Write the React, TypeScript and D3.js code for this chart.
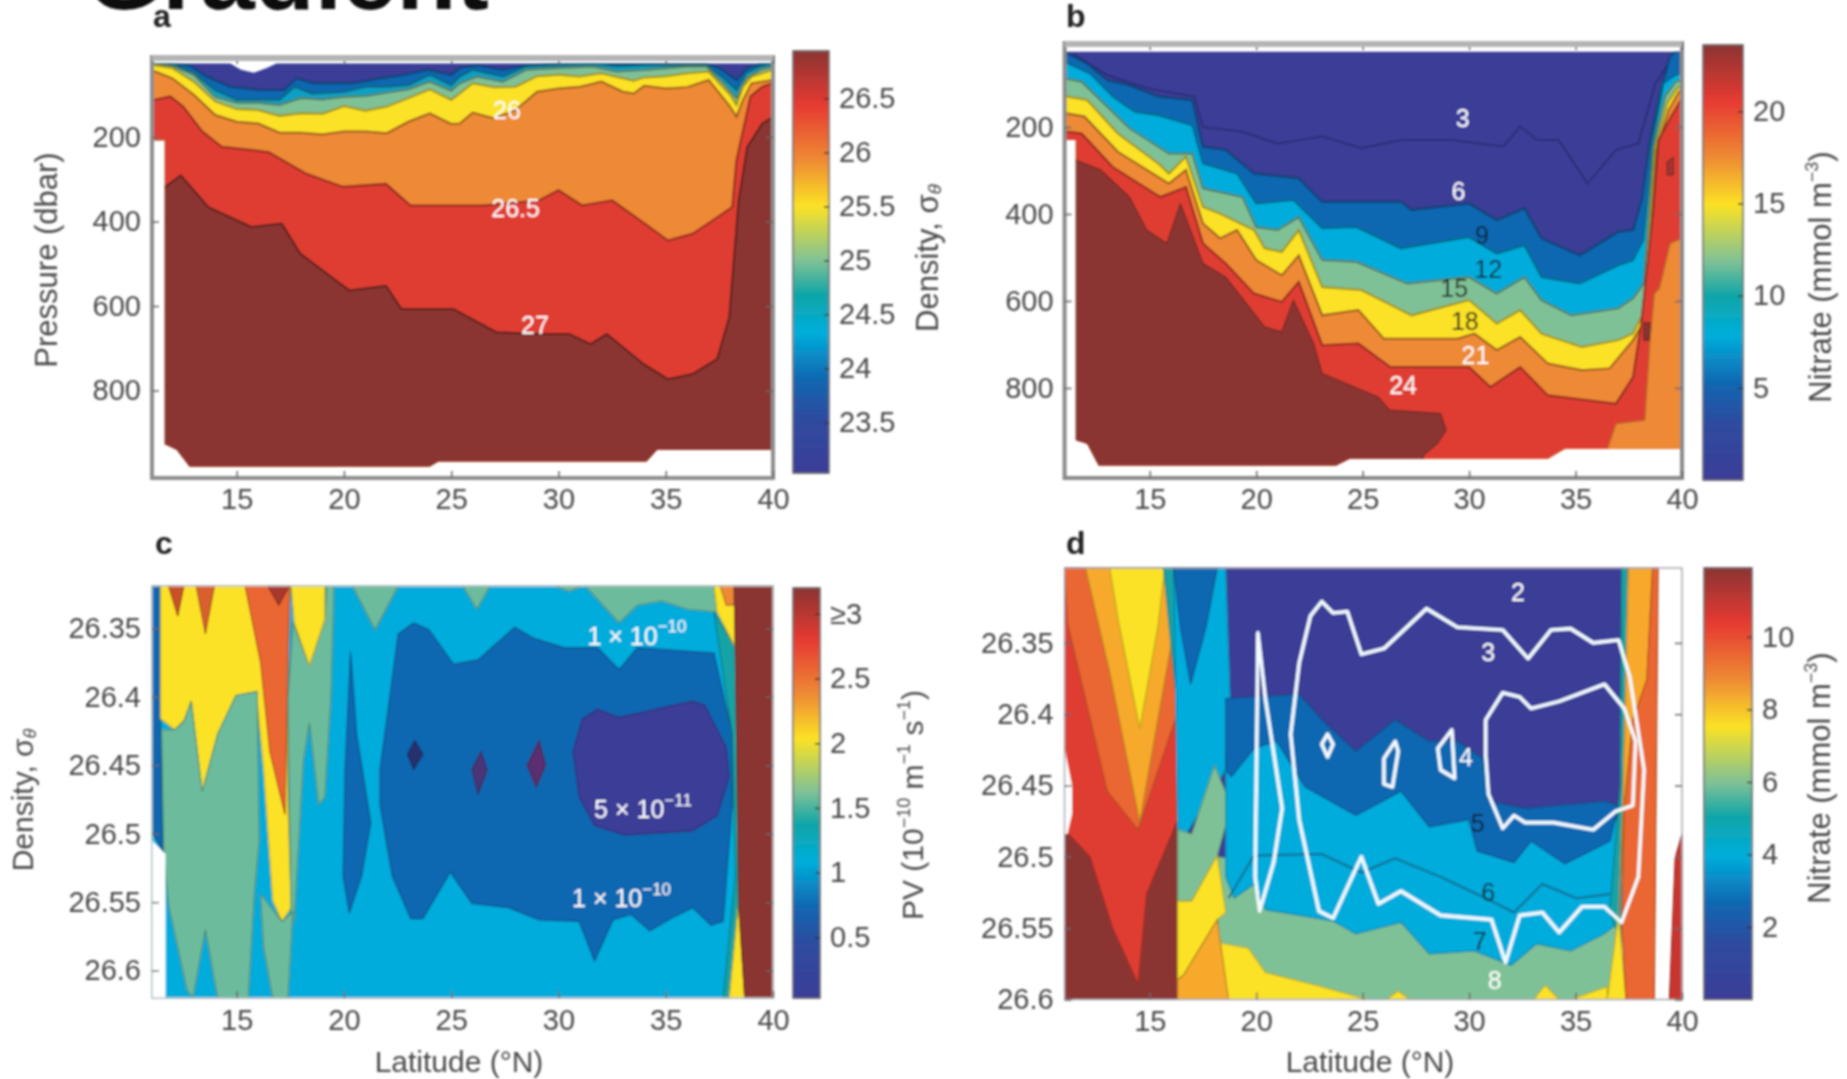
import React, { useEffect, useRef } from 'react';
import * as d3 from 'd3';

type Pt = [number, number];

// palette
const NAVY = '#3b3d97';
const BLUE = '#1167b1';
const CYAN = '#05acdc';
const TEAL = '#12a3a6';
const GREEN = '#7fc196';
const YELLOW = '#fbe225';
const AMBER = '#f6a92c';
const ORANGE = '#ee8a34';
const ORANGERED = '#ea6630';
const RED = '#df3d33';
const DARKRED = '#8a3432';

const barStops = [0, 0.13, 0.22, 0.33, 0.42, 0.5, 0.63, 0.74, 0.87, 1];
const barColors = [NAVY, '#2d4ca0', BLUE, '#00aedb', '#0ea5a8', GREEN, YELLOW, ORANGE, '#e63a30', DARKRED];

const latTicks = [15, 20, 25, 30, 35, 40];
const pressureTicks = [200, 400, 600, 800];
const densityTicks = [26.35, 26.4, 26.45, 26.5, 26.55, 26.6];

// panel a: isopycnals, latitude vs pressure
const aSurface: Pt[] = [[11.05, 26], [14.7, 26], [15.2, 41], [15.8, 48], [16.4, 37], [16.85, 26], [40, 26]];
const aSeabed: Pt[] = [[11.05, 208], [11.65, 208], [11.65, 927], [12.2, 940], [12.8, 980], [24, 980], [24.4, 968], [34.1, 968], [34.6, 940], [40, 940]];
const a24: Pt[] = [[11.4, 26], [12.8, 30], [13.6, 57], [14.7, 81], [16.1, 89], [17.2, 89], [17.8, 61], [18.6, 73], [20.4, 73], [21.7, 61], [22.8, 53], [23.9, 41], [25, 53], [25.4, 37], [26.2, 30], [27.4, 41], [28.5, 30], [30, 27], [36.9, 27], [37.5, 37], [38.3, 65], [38.8, 37], [39.4, 27], [40, 26]];
const a245: Pt[] = [[11.2, 26], [12, 27], [13, 49], [14, 89], [15, 112], [17, 112], [17.7, 81], [18.5, 97], [20, 93], [21, 81], [22, 81], [23, 77], [24, 53], [25, 77], [25.4, 57], [26, 41], [27.4, 57], [28.5, 33], [30, 30], [31.6, 27], [32.7, 33], [34.1, 30], [36.9, 30], [37.7, 61], [38.3, 89], [38.75, 49], [39.4, 33], [39.95, 27]];
const a25: Pt[] = [[11.2, 27], [12, 32], [13, 53], [14, 105], [15, 119], [16, 119], [17, 124], [18, 108], [19, 111], [20, 105], [21, 103], [22, 95], [23, 87], [24, 69], [25, 90], [25.4, 73], [26.2, 57], [27.4, 69], [28.5, 41], [30, 37], [31.6, 33], [32.7, 45], [34.1, 41], [36, 33], [36.9, 33], [37.7, 73], [38.3, 108], [38.75, 61], [39.4, 41], [40, 33]];
const a255: Pt[] = [[11.2, 30], [12, 37], [13, 69], [14, 116], [15, 134], [16, 136], [17, 150], [18, 144], [19, 145], [20, 127], [21, 138], [22, 128], [23, 108], [24, 87], [25, 112], [25.4, 97], [26, 73], [27, 82], [28, 81], [29, 56], [30, 53], [31, 57], [32, 49], [33, 61], [33.5, 67], [34, 59], [35, 56], [36, 49], [37, 45], [38, 100], [38.3, 124], [38.6, 81], [39, 57], [40, 41]];
const a26: Pt[] = [[11.2, 45], [12, 61], [13, 100], [14, 148], [15, 164], [16, 168], [17, 190], [18, 190], [19, 194], [20, 187], [21, 187], [22, 191], [23, 164], [24, 144], [25, 169], [25.4, 168], [26, 142], [27, 156], [28, 136], [29, 93], [30, 85], [31, 81], [32, 69], [33, 93], [33.5, 97], [34, 79], [35, 85], [36, 82], [37, 65], [38, 128], [38.3, 152], [38.6, 112], [39, 73], [40, 65]];
const a265: Pt[] = [[11.2, 112], [11.9, 104], [12.5, 128], [13.4, 187], [14.3, 223], [15.7, 231], [16.5, 236], [18.25, 287], [19.96, 318], [21.96, 311], [23.1, 362], [26.5, 362], [29.1, 350], [30, 326], [31.1, 362], [32.5, 350], [34.25, 413], [35.1, 445], [36.25, 429], [37.4, 390], [38.1, 366], [38.3, 254], [38.95, 104], [39.5, 81], [40, 73]];
const a27: Pt[] = [[11.68, 318], [12.39, 291], [13.68, 366], [15.68, 413], [17.1, 405], [17.96, 476], [20.25, 563], [21.96, 552], [22.68, 607], [25.1, 607], [27.1, 662], [29.1, 666], [30.5, 666], [31.5, 690], [32.25, 666], [33.96, 737], [35.1, 773], [36.25, 761], [37.4, 725], [37.96, 627], [38.4, 350], [38.8, 224], [39.5, 168], [40, 153]];

// panel b: nitrate, latitude vs pressure
const bSurface: Pt[] = [[11, 27], [40, 27]];
const bSeabed: Pt[] = [[11, 230], [11.53, 230], [11.53, 920], [12.06, 928], [12.6, 978], [23.75, 978], [24.4, 963], [33.7, 963], [34.5, 940], [40, 940]];
const b3: Pt[] = [[11.4, 31], [13, 81], [14.85, 111], [17.1, 130], [17.5, 200], [19.36, 211], [21, 238], [23.1, 222], [24.94, 249], [26.8, 230], [29.2, 230], [31.6, 245], [32.4, 199], [33.2, 230], [34.2, 230], [35.56, 330], [36.9, 253], [37.95, 238], [38.75, 100], [39.7, 30]];
const b6: Pt[] = [[11.13, 31], [12.06, 54], [13, 92], [14.05, 104], [15.4, 130], [17, 138], [17.5, 245], [18.57, 253], [19.9, 307], [22, 318], [23.1, 372], [26.8, 372], [27.3, 391], [30, 376], [31.3, 414], [32.6, 387], [33.4, 456], [35.2, 495], [37, 441], [37.7, 437], [38.11, 368], [38.5, 230], [39.05, 107], [39.44, 38], [39.7, 27]];
const b9: Pt[] = [[11, 50], [12.2, 77], [13.26, 130], [14.3, 165], [15.4, 173], [17, 196], [17.5, 284], [19.1, 307], [20, 376], [21.75, 368], [23.1, 433], [24.7, 430], [26.8, 479], [30, 453], [31.3, 491], [32.6, 472], [33.4, 545], [35.2, 560], [37, 518], [37.7, 506], [38.18, 460], [38.63, 230], [39.13, 100], [39.7, 80], [40, 77]];
const b12: Pt[] = [[11, 88], [11.8, 96], [13, 153], [14.05, 203], [15.9, 261], [17, 261], [17.5, 341], [19.36, 361], [20, 430], [21, 437], [22, 407], [23.1, 506], [24.7, 510], [27.1, 560], [30, 545], [31.3, 583], [32.6, 545], [33.4, 598], [34.8, 633], [37, 617], [37.7, 594], [38.2, 560], [38.66, 245], [39.2, 130], [39.7, 96], [40, 92]];
const b15: Pt[] = [[11.13, 130], [12.06, 138], [13.5, 215], [15.4, 284], [15.9, 307], [16.7, 268], [17.5, 384], [18.3, 399], [19.9, 437], [20.4, 479], [21.2, 487], [22, 437], [23.1, 568], [24.94, 575], [27.3, 633], [30, 598], [31.3, 652], [32.4, 621], [33.4, 675], [35.3, 706], [37, 690], [37.7, 675], [38.26, 620], [38.74, 250], [39.3, 146], [39.77, 111], [40, 105]];
const b18: Pt[] = [[11.13, 169], [11.93, 176], [13.5, 257], [15.9, 330], [16.7, 299], [17.5, 422], [18.3, 456], [19.1, 437], [20, 506], [21.2, 541], [22, 495], [23.1, 633], [24.8, 621], [26, 687], [29.45, 687], [30.25, 675], [31.3, 713], [32.4, 683], [33.7, 744], [35.3, 759], [36.6, 755], [37.7, 690], [38.3, 640], [38.81, 253], [39.37, 161], [39.85, 119], [40, 112]];
const b21: Pt[] = [[11.13, 211], [11.8, 215], [13.26, 292], [15.5, 361], [16.7, 338], [17.5, 468], [18.57, 514], [19.9, 583], [21.2, 602], [22, 556], [23.1, 702], [24.8, 698], [26.3, 752], [30, 752], [31, 798], [32.4, 752], [33.7, 817], [36.9, 836], [37.7, 775], [38.08, 652], [38.66, 383], [38.9, 230], [39.44, 180], [40, 134]];
const b24: Pt[] = [[11, 276], [11.53, 276], [12.7, 299], [14.05, 361], [14.85, 437], [15.8, 468], [16.44, 376], [17.5, 514], [18.57, 545], [20.4, 660], [21.2, 671], [21.75, 598], [22.7, 698], [23.1, 767], [25.74, 821], [26.27, 851], [28.66, 859], [28.92, 897], [28.5, 928], [27.85, 955], [27.85, 1007], [11, 1007]];
const bOrangeWedge: Pt[] = [[36.5, 1007], [36.5, 940], [36.9, 882], [38.25, 874], [38.5, 690], [38.7, 583], [38.94, 571], [39.44, 468], [40, 456], [40, 1007]];
const bDarkSpotTop: Pt[] = [[39.3, 280], [39.6, 270], [39.6, 310], [39.3, 310]];
const bDarkSpotLow: Pt[] = [[38.2, 650], [38.5, 650], [38.45, 690], [38.2, 690]];

// panel c: potential vorticity, latitude vs density
const cBase: Pt[] = [[11.05, 26.319], [40, 26.319], [40, 26.62], [11.05, 26.62]];
const cStripLeft: Pt[] = [[11.05, 26.319], [11.45, 26.319], [11.45, 26.416], [11.54, 26.513], [11.11, 26.5]];
const cNotch: Pt[] = [[11.05, 26.505], [11.68, 26.515], [11.68, 26.62], [11.05, 26.62]];
const cYellow1: Pt[] = [[11.45, 26.319], [17.48, 26.319], [17.34, 26.401], [17.39, 26.479], [17.54, 26.554], [17.11, 26.564], [16.68, 26.549], [16.25, 26.453], [15.91, 26.396], [14.96, 26.399], [14.11, 26.427], [13.39, 26.469], [12.88, 26.403], [12.54, 26.417], [12.11, 26.424], [11.45, 26.416]];
const cGreen1: Pt[] = [[11.5, 26.424], [12.11, 26.424], [12.54, 26.418], [12.88, 26.403], [13.39, 26.469], [14.11, 26.427], [14.96, 26.399], [15.96, 26.396], [16.05, 26.505], [15.82, 26.544], [15.54, 26.62], [14.11, 26.62], [13.54, 26.57], [12.96, 26.62], [12.68, 26.614], [11.82, 26.552], [11.6, 26.515]];
const cGreen2: Pt[] = [[17.62, 26.346], [18.39, 26.377], [19.11, 26.343], [19.19, 26.319], [19.54, 26.319], [19.39, 26.401], [19.11, 26.473], [18.82, 26.479], [18.39, 26.419], [18.11, 26.447], [17.68, 26.564], [17.54, 26.564], [17.45, 26.479], [17.39, 26.401]];
const cGreen3: Pt[] = [[16.11, 26.544], [17.11, 26.564], [17.62, 26.557], [17.39, 26.62], [16.68, 26.62], [16.25, 26.583]];
const cOrange1: Pt[] = [[15.39, 26.319], [17.48, 26.319], [17.39, 26.375], [17.25, 26.486], [16.54, 26.44], [16.11, 26.375]];
const cRedTip: Pt[] = [[16.45, 26.319], [17.45, 26.319], [16.96, 26.333]];
const cSpike1: Pt[] = [[11.82, 26.319], [12.54, 26.319], [12.25, 26.341]];
const cSpike2: Pt[] = [[13.11, 26.319], [13.96, 26.319], [13.54, 26.354]];
const cYellow2: Pt[] = [[17.54, 26.319], [19.11, 26.319], [19.11, 26.343], [18.39, 26.377], [17.68, 26.346]];
const cGreenTop1: Pt[] = [[20.39, 26.319], [22.53, 26.319], [21.45, 26.351]];
const cGreenTop2: Pt[] = [[25.54, 26.319], [26.82, 26.319], [26.19, 26.336]];
const cGreenTop3: Pt[] = [[31.25, 26.319], [37.25, 26.319], [37.39, 26.338], [36, 26.336], [34.82, 26.33], [33.68, 26.333], [32.82, 26.346]];
const cGreenTop4: Pt[] = [[29.82, 26.319], [31.11, 26.319], [30.5, 26.323]];
const cBlueStrip: Pt[] = [[20.31, 26.367], [20.59, 26.427], [21.25, 26.492], [20.82, 26.531], [20.25, 26.558], [19.96, 26.531], [20.05, 26.453]];
const cBlue: Pt[] = [[21.68, 26.453], [22.53, 26.354], [23.25, 26.346], [23.96, 26.351], [25.1, 26.376], [26.25, 26.373], [27.96, 26.349], [28.82, 26.357], [30.25, 26.364], [31.82, 26.364], [32.82, 26.38], [33.68, 26.364], [37.25, 26.368], [38.1, 26.427], [38.1, 26.479], [37.68, 26.564], [37.11, 26.567], [36.25, 26.554], [35.25, 26.562], [34.25, 26.571], [33.39, 26.559], [32.54, 26.563], [31.68, 26.593], [30.96, 26.564], [29.1, 26.563], [27.68, 26.554], [25.96, 26.551], [24.96, 26.528], [23.68, 26.562], [23.11, 26.562], [22.25, 26.531], [21.68, 26.479]];
const cNavy: Pt[] = [[30.68, 26.44], [31.11, 26.416], [31.82, 26.409], [32.82, 26.415], [36.25, 26.403], [36.82, 26.406], [37.82, 26.437], [37.96, 26.458], [37.39, 26.487], [36.25, 26.498], [33.1, 26.501], [31.68, 26.494], [30.96, 26.473]];
const cLens1: Pt[] = [[23.3, 26.432], [23.68, 26.442], [23.25, 26.453], [22.96, 26.442]];
const cLens2: Pt[] = [[26.39, 26.44], [26.68, 26.453], [26.25, 26.471], [25.96, 26.453]];
const cLens3: Pt[] = [[29.1, 26.432], [29.4, 26.45], [28.96, 26.466], [28.53, 26.45]];
const cTealRight: Pt[] = [[37.25, 26.338], [38.25, 26.364], [38.39, 26.551], [37.96, 26.62], [37.68, 26.62], [38.25, 26.531], [38.1, 26.427]];
const cYellowTop: Pt[] = [[37.25, 26.319], [38.19, 26.319], [38.25, 26.364], [37.39, 26.338]];
const cOrangeTop: Pt[] = [[37.54, 26.319], [38.19, 26.319], [38.19, 26.333], [37.82, 26.333]];
const cYellowLow: Pt[] = [[38.39, 26.551], [38.68, 26.62], [37.96, 26.62]];
const cDarkRed: Pt[] = [[38.19, 26.319], [40, 26.319], [40, 26.62], [38.68, 26.62], [38.39, 26.551], [38.3, 26.427]];

// panel d: nitrate, latitude vs density
const dBack: Pt[] = [[16.31, 26.2975], [37.3, 26.2975], [37.3, 26.45], [37, 26.55], [37, 26.6], [16.31, 26.6]];
const dLeftBase: Pt[] = [[11, 26.2975], [16.31, 26.2975], [16.31, 26.6], [11, 26.6]];
const dRedV: Pt[] = [[11, 26.2975], [16.31, 26.2975], [16.31, 26.474], [14.85, 26.526], [14.45, 26.589], [13.26, 26.55], [12.2, 26.5], [11.2, 26.484], [11, 26.484]];
const dOrangeRedV: Pt[] = [[11, 26.2975], [16.31, 26.2975], [16.31, 26.399], [14.45, 26.481], [13, 26.454], [11.13, 26.336]];
const dAmberV: Pt[] = [[11.98, 26.2975], [16.31, 26.2975], [16.31, 26.326], [15.38, 26.404], [14.53, 26.476], [13.12, 26.371]];
const dYellowV: Pt[] = [[13.12, 26.2975], [15.7, 26.2975], [15.38, 26.339], [14.53, 26.41], [13.52, 26.334]];
const dLeftWhite: Pt[] = [[11, 26.424], [11.35, 26.45], [11.35, 26.47], [11.13, 26.484], [11, 26.484]];
const dTealStrip: Pt[] = [[15.65, 26.2975], [16.18, 26.2975], [16.31, 26.48], [16.31, 26.399]];
const dCyanCol: Pt[] = [[16.12, 26.2975], [18.57, 26.2975], [18.78, 26.389], [18.57, 26.439], [16.71, 26.484], [16.31, 26.481]];
const dBlueCol: Pt[] = [[16.12, 26.2975], [18.17, 26.2975], [17.64, 26.339], [16.92, 26.379], [16.44, 26.339]];
const dGreenCol: Pt[] = [[16.31, 26.481], [16.97, 26.484], [18.04, 26.436], [18.83, 26.464], [18.17, 26.499], [16.97, 26.531], [16.31, 26.531]];
const dYellowCol: Pt[] = [[16.31, 26.531], [16.97, 26.531], [18.17, 26.499], [18.57, 26.539], [18.17, 26.544], [16.58, 26.583], [16.31, 26.586]];
const dOrangeCol: Pt[] = [[16.31, 26.586], [16.58, 26.583], [18.17, 26.544], [18.7, 26.6], [16.31, 26.6]];
const dGreen: Pt[] = [[18.2, 26.5], [37.2, 26.54], [37, 26.6], [18.2, 26.6]];
const dCyan: Pt[] = [[18.57, 26.43], [20.96, 26.41], [24.68, 26.44], [30.38, 26.47], [36.62, 26.48], [37.1, 26.47], [37.02, 26.546], [36.36, 26.554], [34.77, 26.566], [33.17, 26.561], [31.98, 26.576], [30.25, 26.566], [28.13, 26.568], [26.8, 26.546], [24.68, 26.554], [23.61, 26.545], [20.43, 26.537], [19.9, 26.519], [18.97, 26.529], [18.57, 26.514]];
const dBlue: Pt[] = [[18.57, 26.389], [22.02, 26.386], [23.08, 26.404], [24.68, 26.426], [26.53, 26.404], [28.13, 26.419], [29.45, 26.419], [30.65, 26.431], [30.91, 26.461], [32.64, 26.466], [36.36, 26.461], [37.02, 26.464], [36.62, 26.489], [34.5, 26.505], [32.91, 26.489], [32.11, 26.504], [30.38, 26.496], [29.99, 26.474], [28.13, 26.479], [26.8, 26.454], [24.68, 26.471], [22.29, 26.451], [20.96, 26.419], [19.9, 26.424], [18.83, 26.444], [18.57, 26.439]];
const dYellowLow: Pt[] = [[18.2, 26.56], [19.63, 26.564], [20.43, 26.581], [23.08, 26.591], [25.2, 26.6], [18.2, 26.6]];
const dBlob1: Pt[] = [[26.14, 26.6], [26.67, 26.594], [27.2, 26.6]];
const dBlob2: Pt[] = [[33.04, 26.6], [33.57, 26.59], [34.23, 26.6]];
const dBlob3: Pt[] = [[34.77, 26.6], [36.49, 26.591], [36.49, 26.6]];
const dTealRight: Pt[] = [[37.16, 26.2975], [37.47, 26.2975], [37.37, 26.464], [37.16, 26.55], [36.89, 26.55], [36.6, 26.539], [37.1, 26.45]];
const dAmberRight: Pt[] = [[37.47, 26.2975], [38.62, 26.2975], [38.35, 26.376], [37.69, 26.404], [37.29, 26.464], [37.02, 26.541], [37.2, 26.47], [37.47, 26.3]];
const dYellowRight: Pt[] = [[37.02, 26.541], [37.37, 26.6], [36.49, 26.6]];
const dRedRight: Pt[] = [[38.62, 26.2975], [38.88, 26.2975], [38.7, 26.6], [37.37, 26.6], [37.16, 26.546], [37.29, 26.464], [37.69, 26.404], [38.35, 26.376]];
const dDarkRight: Pt[] = [[39.41, 26.6], [40, 26.6], [40, 26.484], [39.68, 26.501]];
const dLine5: Pt[] = [[18.7, 26.529], [19.9, 26.499], [23.08, 26.498], [24.94, 26.511], [26.53, 26.501], [28.66, 26.514], [30.78, 26.529], [32.11, 26.539], [33.44, 26.519], [35.03, 26.529], [36.62, 26.526]];
const dWhite1: Pt[] = [[20.08, 26.343], [20.43, 26.389], [21.22, 26.466], [20.82, 26.504], [20.16, 26.538], [19.95, 26.514], [20.03, 26.414]];
const dWhite2: Pt[] = [[23.08, 26.321], [23.61, 26.329], [24.28, 26.328], [24.94, 26.358], [26, 26.354], [28, 26.326], [29.45, 26.339], [31.58, 26.341], [32.77, 26.361], [33.84, 26.341], [34.77, 26.34], [35.83, 26.35], [37.02, 26.348], [37.55, 26.374], [38.22, 26.439], [37.95, 26.514], [37.16, 26.546], [36.36, 26.535], [35.3, 26.535], [34.23, 26.553], [33.44, 26.539], [32.38, 26.541], [31.71, 26.574], [31.05, 26.544], [28.66, 26.541], [26.8, 26.524], [25.74, 26.533], [24.94, 26.5], [23.61, 26.543], [22.95, 26.538], [22.02, 26.474], [21.62, 26.414], [22.02, 26.364], [22.55, 26.331]];
const dWhite3: Pt[] = [[30.78, 26.404], [31.58, 26.385], [32.38, 26.388], [32.91, 26.396], [34.23, 26.391], [36.36, 26.379], [37.29, 26.396], [37.82, 26.419], [37.69, 26.464], [36.89, 26.468], [35.83, 26.481], [33.97, 26.476], [32.64, 26.476], [32.11, 26.471], [31.58, 26.48], [30.91, 26.456], [30.78, 26.429]];
const dWhite4: Pt[] = [[23.35, 26.414], [23.61, 26.421], [23.35, 26.43], [23.08, 26.421]];
const dWhite5: Pt[] = [[26.53, 26.419], [26.67, 26.426], [26.4, 26.451], [26, 26.449], [26, 26.431]];
const dWhite6: Pt[] = [[29.19, 26.411], [29.32, 26.445], [28.66, 26.439], [28.53, 26.424]];

// contour labels: text, latitude, y value, colour
const aLabels: [string, number, number, string][] = [['26', 27.6, 141, '#fff'], ['26.5', 28, 373, '#fff'], ['27', 28.9, 650, '#fff']];
const bLabels: [string, number, number, string][] = [['3', 29.7, 184, '#fff'], ['6', 29.5, 352, '#fff'], ['9', 30.6, 453, '#123'], ['12', 30.9, 533, '#123'], ['15', 29.3, 575, '#222'], ['18', 29.8, 651, '#222'], ['21', 30.3, 729, '#fff'], ['24', 26.9, 798, '#fff']];
const dLabels: [string, number, number, string][] = [['2', 32.3, 26.316, '#fff'], ['3', 30.9, 26.358, '#fff'], ['4', 29.85, 26.432, '#fff'], ['5', 30.4, 26.478, '#123'], ['6', 30.9, 26.526, '#123'], ['7', 30.5, 26.561, '#123'], ['8', 31.2, 26.588, '#fff']];

const FONT = '"Liberation Sans", Arial, sans-serif';
const INK = '#4a4a4a';

const line = (x: any, y: any) => d3.line<Pt>().x(d => x(d[0])).y(d => y(d[1]));

const drawPolys = (g: any, x: any, y: any, polys: [Pt[], string][]) => {
  polys.forEach(([pts, color]) => {
    g.append('path')
      .attr('d', line(x, y)(pts) + 'Z')
      .attr('fill', color)
      .attr('stroke', d3.color(color)!.darker(0.9).formatHex())
      .attr('stroke-width', 1.1);
  });
};

// fill everything below a contour, then stroke the contour itself
const drawContourLayers = (g: any, x: any, y: any, layers: [Pt[], string][]) => {
  const [x0, x1] = x.domain();
  const yMax = y.domain()[1];
  layers.forEach(([pts, color]) => {
    const full: Pt[] = [[x0, pts[0][1]], ...pts, [x1, pts[pts.length - 1][1]]];
    g.append('path')
      .attr('d', line(x, y)([...full, [x1, yMax], [x0, yMax]]) + 'Z')
      .attr('fill', color);
    g.append('path')
      .attr('d', line(x, y)(full))
      .attr('fill', 'none')
      .attr('stroke', d3.color(color)!.darker(1.3).formatHex())
      .attr('stroke-width', 2);
  });
};

const drawFrame = (g: any, x: any, y: any, yTicks: number[], frameColor: string, frameWidth: number, showX: boolean) => {
  const [xa, xb] = x.range();
  const [ya, yb] = y.range();
  g.append('rect')
    .attr('x', xa).attr('y', ya)
    .attr('width', xb - xa).attr('height', yb - ya)
    .attr('fill', 'none')
    .attr('stroke', frameColor)
    .attr('stroke-width', frameWidth);

  const style = (sel: any) => {
    sel.select('.domain').remove();
    sel.selectAll('line').attr('stroke', '#666').attr('stroke-width', 1.5);
    sel.selectAll('text').attr('font-family', FONT).attr('font-size', 29).attr('fill', INK);
  };
  g.append('g').attr('transform', `translate(0,${yb})`)
    .call(d3.axisBottom(x).tickValues(latTicks).tickSize(-7).tickPadding(showX ? 10 : 11).tickFormat(d3.format('d') as any))
    .call(style);
  g.append('g').attr('transform', `translate(${xa},0)`)
    .call(d3.axisLeft(y).tickValues(yTicks).tickSize(-7).tickPadding(11).tickFormat(String as any))
    .call(style);
  if (showX) {
    g.append('g').attr('transform', `translate(0,${ya})`)
      .call(d3.axisTop(x).tickValues(latTicks).tickSize(-7).tickFormat('' as any))
      .call(style);
    // the top edge of the upper panels is a broad grey band
    g.append('rect')
      .attr('x', xa).attr('y', ya - 2)
      .attr('width', xb - xa).attr('height', 6)
      .attr('fill', '#b4b4b4');
  }
  g.append('g').attr('transform', `translate(${xb},0)`)
    .call(d3.axisRight(y).tickValues(yTicks).tickSize(-7).tickFormat('' as any))
    .call(style);
};

const drawColorbar = (
  g: any, left: number, right: number, top: number, bottom: number,
  domain: [number, number], ticks: number[], fmt: (d: number) => string,
) => {
  const scale = d3.scaleLinear().domain(domain).range([bottom, top]);
  const color = d3.scaleLinear<string>()
    .domain(barStops.map(t => domain[0] + t * (domain[1] - domain[0])))
    .range(barColors)
    .interpolate(d3.interpolateRgb);
  const steps = d3.range(domain[0], domain[1], (domain[1] - domain[0]) / 150);
  const stepH = (bottom - top) / 150;
  g.selectAll(null).data(steps).join('rect')
    .attr('x', left)
    .attr('y', (d: number) => scale(d) - stepH - 0.5)
    .attr('width', right - left)
    .attr('height', stepH + 1)
    .attr('fill', (d: number) => color(d));
  g.append('rect')
    .attr('x', left).attr('y', top)
    .attr('width', right - left).attr('height', bottom - top)
    .attr('fill', 'none').attr('stroke', '#6a6a6a').attr('stroke-width', 1.5);
  const axis = g.append('g').attr('transform', `translate(${right},0)`)
    .call(d3.axisRight(scale).tickValues(ticks).tickSize(-5).tickPadding(10).tickFormat(fmt as any));
  axis.select('.domain').remove();
  axis.selectAll('line').attr('stroke', '#333').attr('stroke-width', 1.5);
  axis.selectAll('text').attr('font-family', FONT).attr('font-size', 29).attr('fill', INK);
};

const addText = (g: any, txt: string, px: number, py: number, opts: any = {}) => {
  const t = g.append('text')
    .attr('x', px).attr('y', py)
    .attr('text-anchor', opts.anchor || 'middle')
    .attr('dominant-baseline', opts.baseline || 'middle')
    .attr('font-family', FONT)
    .attr('font-size', opts.size || 28)
    .attr('font-weight', opts.weight || 'normal')
    .attr('fill', opts.fill || INK)
    .text(txt);
  if (opts.rotate) t.attr('transform', `rotate(${opts.rotate} ${px} ${py})`);
  return t;
};

const sup = (t: any, txt: string, size = 18) => {
  t.append('tspan').attr('dy', -10).attr('font-size', size).text(txt);
  return t;
};

const after = (t: any, txt: string) => {
  t.append('tspan').attr('dy', 10).text(txt);
  return t;
};

const App = () => {
  const ref = useRef<SVGSVGElement>(null);

  useEffect(() => {
    const svg = d3.select(ref.current);
    svg.selectAll('*').remove();

    const defs = svg.append('defs');
    defs.append('filter').attr('id', 'soft')
      .attr('filterUnits', 'userSpaceOnUse')
      .attr('x', 0).attr('y', 0).attr('width', 1847).attr('height', 1079)
      .append('feGaussianBlur').attr('stdDeviation', 1);

    const root = svg.append('g').attr('filter', 'url(#soft)');

    // clipped title of the page above the figure
    addText(root, 'Gradient', 86, 9, { anchor: 'start', baseline: 'auto', size: 98, weight: 'bold', fill: '#111' });

    addText(root, 'a', 153, 27, { anchor: 'start', baseline: 'auto', size: 32, weight: 'bold', fill: '#222' });
    addText(root, 'b', 1066, 27, { anchor: 'start', baseline: 'auto', size: 32, weight: 'bold', fill: '#222' });
    addText(root, 'c', 155, 554, { anchor: 'start', baseline: 'auto', size: 32, weight: 'bold', fill: '#222' });
    addText(root, 'd', 1066, 554, { anchor: 'start', baseline: 'auto', size: 32, weight: 'bold', fill: '#222' });

    // panel a
    const xa = d3.scaleLinear().domain([11.05, 40]).range([152, 773]);
    const ya = d3.scaleLinear().domain([10.7, 1007]).range([57, 478]);
    defs.append('clipPath').attr('id', 'clipA').append('path')
      .attr('d', line(xa, ya)([...aSurface, ...[...aSeabed].reverse()]) + 'Z');
    const ga = root.append('g').attr('clip-path', 'url(#clipA)');
    ga.append('rect').attr('x', 152).attr('y', 57).attr('width', 621).attr('height', 421).attr('fill', NAVY);
    drawContourLayers(ga, xa, ya, [
      [a24, BLUE], [a245, '#0fa0c4'], [a25, GREEN], [a255, YELLOW],
      [a26, ORANGE], [a265, RED], [a27, DARKRED],
    ]);
    drawFrame(root, xa, ya, pressureTicks, '#8e8e8e', 4, true);
    aLabels.forEach(([t, lat, v, c]) => addText(root, t, xa(lat), ya(v), { fill: c, size: 25 }));
    drawColorbar(root, 793, 829, 51, 473, [23.03, 26.94], [23.5, 24, 24.5, 25, 25.5, 26, 26.5], String);
    addText(root, 'Pressure (dbar)', 49, 260, { rotate: -90, size: 31 });
    const da = addText(root, 'Density, σ', 930, 258, { rotate: -90, size: 31 });
    da.append('tspan').attr('dy', 6).attr('font-size', 19).attr('font-style', 'italic').text('θ');

    // panel b
    const xb = d3.scaleLinear().domain([11, 40]).range([1064.6, 1682]);
    const yb = d3.scaleLinear().domain([6.9, 1007]).range([43, 478]);
    defs.append('clipPath').attr('id', 'clipB').append('path')
      .attr('d', line(xb, yb)([...bSurface, ...[...bSeabed].reverse()]) + 'Z');
    const gb = root.append('g').attr('clip-path', 'url(#clipB)');
    gb.append('rect').attr('x', 1064).attr('y', 43).attr('width', 618).attr('height', 435).attr('fill', NAVY);
    gb.append('path').attr('d', line(xb, yb)(b3)).attr('fill', 'none').attr('stroke', '#2b2e78').attr('stroke-width', 2);
    drawContourLayers(gb, xb, yb, [
      [b6, BLUE], [b9, CYAN], [b12, GREEN], [b15, YELLOW],
      [b18, ORANGE], [b21, RED],
    ]);
    drawPolys(gb, xb, yb, [
      [bOrangeWedge, ORANGE], [b24, DARKRED],
      [bDarkSpotTop, '#a23633'], [bDarkSpotLow, DARKRED],
    ]);
    drawFrame(root, xb, yb, pressureTicks, '#8a8a8a', 4, true);
    bLabels.forEach(([t, lat, v, c]) => addText(root, t, xb(lat), yb(v), { fill: c, size: 25 }));
    drawColorbar(root, 1703, 1743, 45, 480, [0, 23.6], [5, 10, 15, 20], String);
    const nb = addText(root, 'Nitrate (mmol m', 1823, 277, { rotate: -90, size: 31 });
    after(sup(nb, '−3'), ')');

    // panel c
    const xc = d3.scaleLinear().domain([11.05, 40]).range([152, 773]);
    const yc = d3.scaleLinear().domain([26.319, 26.62]).range([586, 998]);
    const gc = root.append('g');
    drawPolys(gc, xc, yc, [
      [cBase, CYAN],
      [cStripLeft, BLUE],
      [cYellow1, YELLOW],
      [cOrange1, ORANGERED],
      [cRedTip, '#a9382f'],
      [cSpike1, '#c9512c'],
      [cSpike2, '#d9602d'],
      [cGreen1, '#6cbb9d'],
      [cGreen2, '#6cbb9d'],
      [cGreen3, '#6cbb9d'],
      [cYellow2, YELLOW],
      [cGreenTop1, '#6cbb9d'],
      [cGreenTop2, '#6cbb9d'],
      [cGreenTop3, '#6cbb9d'],
      [cGreenTop4, '#6cbb9d'],
      [cBlueStrip, BLUE],
      [cBlue, BLUE],
      [cNavy, NAVY],
      [cLens1, '#25306f'],
      [cLens2, '#4a3478'],
      [cLens3, '#5a2f70'],
      [cTealRight, TEAL],
      [cYellowTop, YELLOW],
      [cOrangeTop, ORANGE],
      [cYellowLow, YELLOW],
      [cDarkRed, DARKRED],
    ]);
    gc.append('path').attr('d', line(xc, yc)(cNotch) + 'Z').attr('fill', '#fff');
    drawFrame(root, xc, yc, densityTicks, '#c8cdd0', 1.5, false);
    const c1 = addText(root, '1 × 10', xc(33.66), yc(26.357), { fill: '#fff', size: 25 });
    sup(c1, '−10', 17);
    const c2 = addText(root, '5 × 10', xc(33.94), yc(26.484), { fill: '#fff', size: 25 });
    sup(c2, '−11', 17);
    const c3 = addText(root, '1 × 10', xc(32.94), yc(26.549), { fill: '#fff', size: 25 });
    sup(c3, '−10', 17);
    drawColorbar(root, 793, 820, 588, 998, [0.03, 3.2], [0.5, 1, 1.5, 2, 2.5, 3], d => (d === 3 ? '≥3' : String(d)));
    const pv = addText(root, 'PV (10', 915, 805, { rotate: -90, size: 30 });
    sup(pv, '−10');
    after(pv, '\u00a0m');
    sup(pv, '−1');
    after(pv, '\u00a0s');
    sup(pv, '−1');
    after(pv, ')');
    const dc = addText(root, 'Density, σ', 25, 800, { rotate: -90, size: 30 });
    dc.append('tspan').attr('dy', 6).attr('font-size', 18).attr('font-style', 'italic').text('θ');
    addText(root, 'Latitude (°N)', 459, 1064, { size: 30 });

    // panel d
    const xd = d3.scaleLinear().domain([11, 40]).range([1064.6, 1682]);
    const yd = d3.scaleLinear().domain([26.2975, 26.6]).range([568, 999.5]);
    const gd = root.append('g');
    drawPolys(gd, xd, yd, [
      [dBack, NAVY],
      [dGreen, GREEN],
      [dYellowLow, YELLOW],
      [dBlob1, YELLOW],
      [dBlob2, YELLOW],
      [dBlob3, YELLOW],
      [dLeftBase, DARKRED],
      [dRedV, RED],
      [dOrangeRedV, ORANGERED],
      [dAmberV, AMBER],
      [dYellowV, YELLOW],
      [dTealStrip, TEAL],
      [dCyanCol, CYAN],
      [dBlueCol, BLUE],
      [dGreenCol, GREEN],
      [dYellowCol, YELLOW],
      [dOrangeCol, AMBER],
      [dCyan, CYAN],
      [dBlue, BLUE],
      [dTealRight, TEAL],
      [dAmberRight, AMBER],
      [dYellowRight, YELLOW],
      [dRedRight, ORANGERED],
      [dDarkRight, '#c8352f'],
    ]);
    gd.append('path').attr('d', line(xd, yd)(dLeftWhite) + 'Z').attr('fill', '#fff');
    gd.append('path').attr('d', line(xd, yd)(dLine5)).attr('fill', 'none').attr('stroke', '#0e6a8e').attr('stroke-width', 2);
    [dWhite1, dWhite2, dWhite3, dWhite4, dWhite5, dWhite6].forEach(pts => {
      gd.append('path')
        .attr('d', line(xd, yd)(pts) + 'Z')
        .attr('fill', 'none')
        .attr('stroke', '#f2fbff')
        .attr('stroke-width', 3.6)
        .attr('stroke-linejoin', 'round');
    });
    drawFrame(root, xd, yd, densityTicks, '#a9a9b4', 1.5, false);
    dLabels.forEach(([t, lat, v, c]) => addText(root, t, xd(lat), yd(v), { fill: c, size: 25 }));
    drawColorbar(root, 1704, 1752, 568, 999.5, [0, 11.9], [2, 4, 6, 8, 10], String);
    const nd = addText(root, 'Nitrate (mmol m', 1822, 778, { rotate: -90, size: 31 });
    after(sup(nd, '−3'), ')');
    addText(root, 'Latitude (°N)', 1370, 1064, { size: 30 });
  }, []);

  return (
    <svg
      ref={ref}
      width={1847}
      height={1079}
      style={{ position: 'absolute', left: 0, top: 0, background: '#fff' }}
    />
  );
};

export default App;
